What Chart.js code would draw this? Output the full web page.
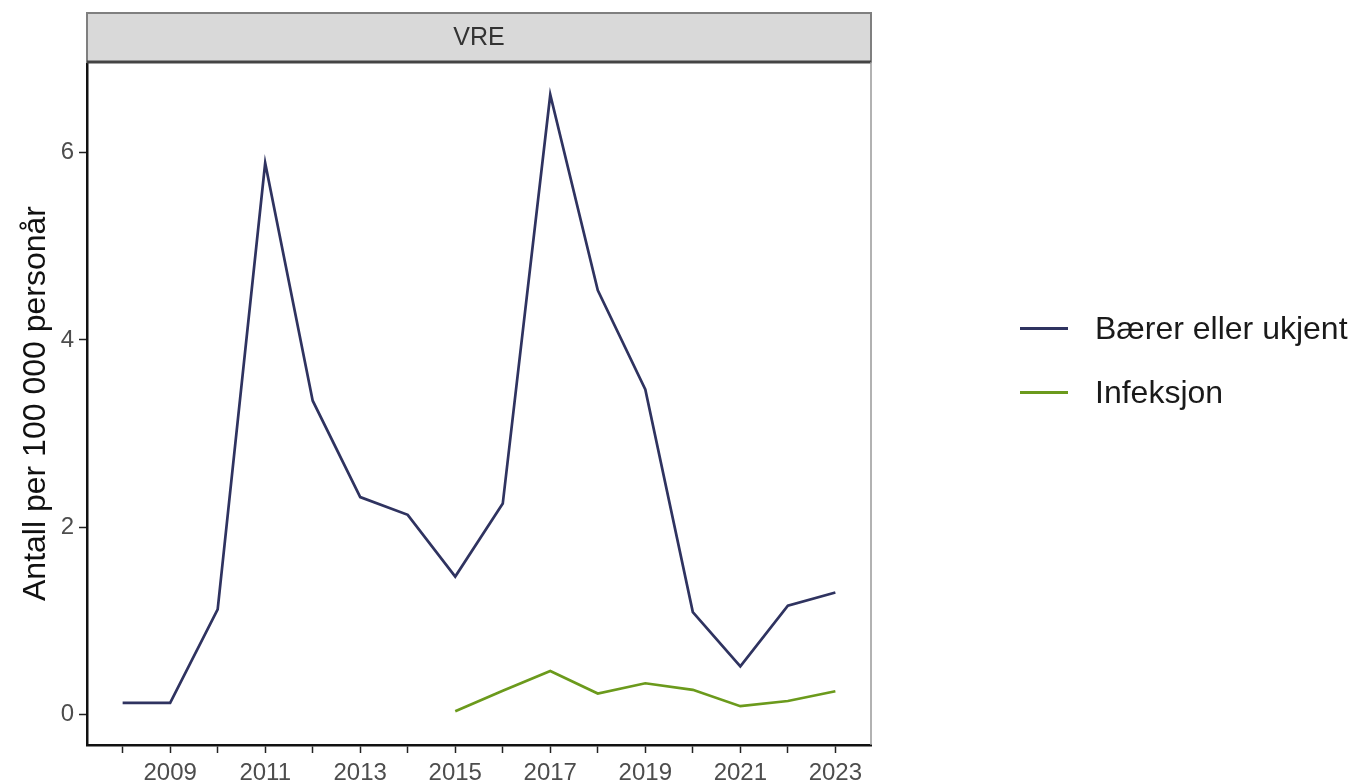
<!DOCTYPE html>
<html>
<head>
<meta charset="utf-8">
<script src="https://cdn.jsdelivr.net/npm/chart.js@4.4.1/dist/chart.umd.min.js"></script>
<style>
  html, body { margin: 0; padding: 0; background: #fff; }
  #wrap { position: relative; width: 1361px; height: 784px; }
  #legend { position: absolute; left: 1020px; top: 308px; font-family: "Liberation Sans", Arial, sans-serif; font-size: 32px; color: #1a1a1a; }
  .item { display: flex; align-items: center; height: 40px; margin-bottom: 24px; }
  .swatch { width: 48px; height: 3px; margin-right: 27px; }
</style>
</head>
<body>
<div id="wrap">
  <canvas id="c" width="1361" height="784"></canvas>
  <div id="legend"></div>
</div>
<script>
const years = [2008, 2009, 2010, 2011, 2012, 2013, 2014, 2015, 2016, 2017, 2018, 2019, 2020, 2021, 2022, 2023];
const baererValues = [0.12, 0.12, 1.12, 5.89, 3.35, 2.32, 2.13, 1.47, 2.25, 6.62, 4.53, 3.47, 1.09, 0.51, 1.16, 1.30];
const infeksjonValues = [null, null, null, null, null, null, null, 0.03, 0.25, 0.46, 0.22, 0.33, 0.26, 0.085, 0.14, 0.245];
const yTicks = [0, 2, 4, 6];
const seriesNames = ["Bærer eller ukjent", "Infeksjon"];
const seriesColors = ["#2f3360", "#6b9a1c"];
const panelTitle = "VRE";
const yTitle = "Antall per 100 000 personår";

const toPoints = vals => years.map((yr, i) => ({ x: yr, y: vals[i] }));

const stripPlugin = {
  id: 'strip',
  afterDraw(chart) {
    const { ctx, chartArea } = chart;
    const top = 13;
    ctx.save();
    ctx.fillStyle = '#d9d9d9';
    ctx.fillRect(chartArea.left, top, chartArea.right - chartArea.left, chartArea.top - top);
    ctx.strokeStyle = '#7f7f7f';
    ctx.lineWidth = 2;
    ctx.strokeRect(chartArea.left, top, chartArea.right - chartArea.left, chartArea.top - top);
    ctx.strokeStyle = '#444';
    ctx.lineWidth = 3;
    ctx.beginPath();
    ctx.moveTo(chartArea.left, chartArea.top);
    ctx.lineTo(chartArea.right, chartArea.top);
    ctx.stroke();
    ctx.strokeStyle = '#999';
    ctx.lineWidth = 1.5;
    ctx.beginPath();
    ctx.moveTo(chartArea.right, chartArea.top);
    ctx.lineTo(chartArea.right, chartArea.bottom);
    ctx.stroke();
    ctx.fillStyle = '#333';
    ctx.font = '25px "Liberation Sans", Arial, sans-serif';
    ctx.textAlign = 'center';
    ctx.textBaseline = 'middle';
    ctx.fillText(panelTitle, (chartArea.left + chartArea.right) / 2, (top + chartArea.top) / 2 + 1);
    ctx.restore();
  }
};

new Chart(document.getElementById('c'), {
  type: 'line',
  data: {
    datasets: [
      { label: seriesNames[0], data: toPoints(baererValues), borderColor: seriesColors[0], borderWidth: 2.7, pointRadius: 0, tension: 0 },
      { label: seriesNames[1], data: toPoints(infeksjonValues), borderColor: seriesColors[1], borderWidth: 2.7, pointRadius: 0, tension: 0, spanGaps: false }
    ]
  },
  options: {
    responsive: false,
    animation: false,
    layout: { padding: { top: 62, right: 490, bottom: 0, left: 0 } },
    plugins: { legend: { display: false }, tooltip: { enabled: false } },
    scales: {
      x: {
        type: 'linear',
        min: 2007.25,
        max: 2023.75,
        afterBuildTicks: s => { s.ticks = years.map(v => ({ value: v })); },
        afterFit: s => { s.height = 39; },
        grid: { drawOnChartArea: false, drawTicks: true, tickLength: 8, tickColor: '#222', tickWidth: 1.5 },
        border: { display: true, color: '#111', width: 2.5 },
        ticks: {
          autoSkip: false,
          maxRotation: 0,
          padding: 6,
          color: '#4d4d4d',
          font: { family: '"Liberation Sans", Arial, sans-serif', size: 24 },
          callback: v => (v % 2 === 1 ? String(v) : '')
        }
      },
      y: {
        min: -0.33,
        max: 6.97,
        afterBuildTicks: s => { s.ticks = yTicks.map(v => ({ value: v })); },
        afterFit: s => { s.width = 87; },
        grid: { drawOnChartArea: false, drawTicks: true, tickLength: 8, tickColor: '#222', tickWidth: 1.5 },
        border: { display: true, color: '#111', width: 2.5 },
        ticks: {
          padding: 5,
          color: '#4d4d4d',
          font: { family: '"Liberation Sans", Arial, sans-serif', size: 24 }
        },
        title: {
          display: true,
          text: yTitle,
          color: '#111',
          padding: { top: 17, bottom: 0 },
          font: { family: '"Liberation Sans", Arial, sans-serif', size: 32 }
        }
      }
    }
  },
  plugins: [stripPlugin]
});

const legend = document.getElementById('legend');
seriesNames.forEach((n, i) => {
  const d = document.createElement('div');
  d.className = 'item';
  d.innerHTML = '<span class="swatch" style="background:' + seriesColors[i] + '"></span><span>' + n + '</span>';
  legend.appendChild(d);
});
</script>
</body>
</html>
